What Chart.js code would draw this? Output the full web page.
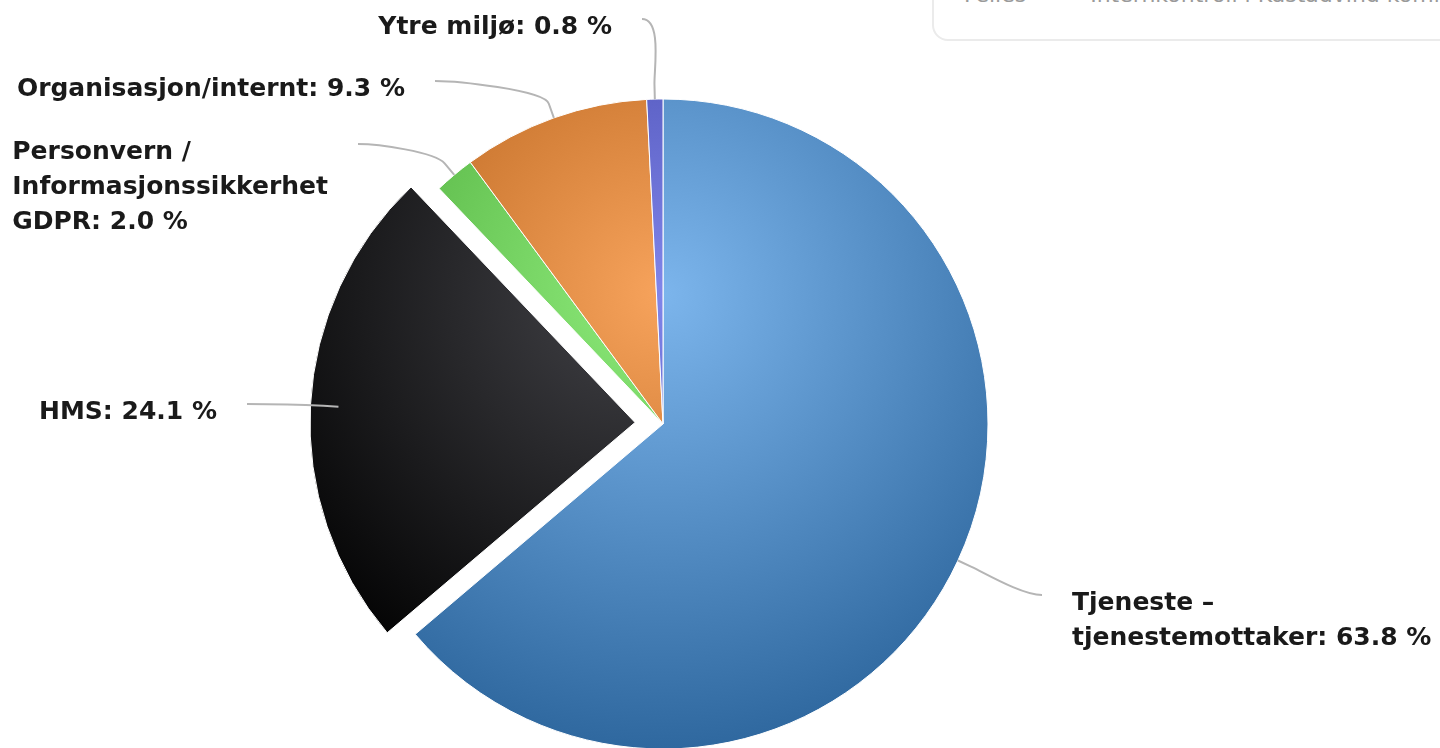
<!DOCTYPE html>
<html lang="no">
<head>
<meta charset="utf-8">
<title>Avvik fordelt på kategori</title>
<script src="https://cdn.jsdelivr.net/npm/chart.js@4.4.1/dist/chart.umd.min.js"></script>
<style>
  html, body { margin: 0; padding: 0; background: #fff; overflow: hidden; }
  .wrap { position: relative; width: 1440px; height: 748px; overflow: hidden; }
  #myChart { position: absolute; left: 0; top: 0; }
  .infoBox {
    position: absolute; left: 932px; top: -70px; width: 600px; height: 107px;
    border: 2px solid #ebebeb; border-radius: 16px; background: #fff;
  }
  .infoBox span {
    position: absolute; left: 30px; top: 50px;
    font: 22px "DejaVu Sans", sans-serif; color: #9a9a9a; white-space: nowrap;
  }
</style>
</head>
<body>
<div class="wrap">
  <canvas id="myChart" width="1440" height="748"></canvas>
  <div class="infoBox"><span>Felles &nbsp; — &nbsp; Internkontroll i Kastadvind kommune</span></div>
</div>
<script>
// kategorier, med klokka fra kl. 12 (flere linjer = array)
const categories = [
  ["Tjeneste –", "tjenestemottaker"],
  "HMS",
  ["Personvern /", "Informasjonssikkerhet", "GDPR"],
  "Organisasjon/internt",
  "Ytre miljø",
];
// andel i prosent
const shares = [63.8, 24.1, 2.0, 9.3, 0.8];

// farger (highcharts-aktig palett)
const baseColors = ["#7cb5ec", "#434348", "#90ed7d", "#f7a35c", "#8085e9"];
// hvilken bit som er trukket ut
const explodedIndex = 1;

// layout
const pieRadius = 325;
// hvor ledelinjen starter ved etiketten, relativt til sentrum
const labelAnchors = [
  [379, 171],
  [-416, -20],
  [-305, -280],
  [-228, -343],
  [-21, -405],
];

// gjør en hex-farge mørkere (som brighten(-0.3))
function darken(hex, amount) {
  const n = parseInt(hex.slice(1), 16);
  const step = Math.round(amount * 255);
  const r = Math.max(0, ((n >> 16) & 255) - step);
  const g = Math.max(0, ((n >> 8) & 255) - step);
  const b = Math.max(0, (n & 255) - step);
  return `rgb(${r}, ${g}, ${b})`;
}

// radial gradient for hver bit
function sliceFill(c) {
  const chart = c.chart;
  const area = chart.chartArea;
  const color = baseColors[c.dataIndex % baseColors.length];
  if (!area) return color;
  const cx = (area.left + area.right) / 2;
  const cy = (area.top + area.bottom) / 2 - 0.4 * pieRadius;
  const grad = chart.ctx.createRadialGradient(cx, cy, 0, cx, cy, 1.4 * pieRadius);
  grad.addColorStop(0, color);
  grad.addColorStop(1, darken(color, 0.3));
  return grad;
}

// etiketter med ledelinjer
const pieLabels = {
  id: "pieLabels",
  afterDatasetsDraw(chart) {
    const ctx = chart.ctx;
    const meta = chart.getDatasetMeta(0);
    ctx.save();
    ctx.font = "bold 25px 'DejaVu Sans'";
    ctx.textBaseline = "alphabetic";
    meta.data.forEach((arc, i) => {
      const { x, y, startAngle, endAngle, outerRadius } = arc.getProps(
        ["x", "y", "startAngle", "endAngle", "outerRadius"],
        true
      );
      const mid = (startAngle + endAngle) / 2;
      const ex = x + Math.cos(mid) * outerRadius;
      const ey = y + Math.sin(mid) * outerRadius;
      const bx = x + Math.cos(mid) * (outerRadius + 15);
      const by = y + Math.sin(mid) * (outerRadius + 15);
      const px = x + labelAnchors[i][0];
      const py = y + labelAnchors[i][1];
      const onRight = px > x;
      const dir = onRight ? -1 : 1;

      // ledelinje
      ctx.beginPath();
      ctx.moveTo(px, py);
      ctx.bezierCurveTo(px + dir * 20, py, 2 * bx - ex, 2 * by - ey, bx, by);
      ctx.lineTo(ex, ey);
      ctx.strokeStyle = "#b5b5b5";
      ctx.lineWidth = 2;
      ctx.stroke();

      // tekst
      const name = categories[i];
      const lines = Array.isArray(name) ? name.slice() : [name];
      lines[lines.length - 1] += `: ${shares[i].toFixed(1)} %`;
      const widths = lines.map((l) => ctx.measureText(l).width);
      const boxW = Math.max(...widths);
      let left;
      if (onRight) {
        left = px + 30;
      } else {
        left = Math.max(12, px - 30 - boxW);
      }
      ctx.fillStyle = "#1a1a1a";
      lines.forEach((l, k) => {
        let lx = left;
        if (!onRight && lines.length === 1) lx = left + boxW - widths[k];
        ctx.textAlign = "left";
        ctx.fillText(l, lx, py + 15 + k * 35);
      });
    });
    ctx.restore();
  },
};

const ctx = document.getElementById("myChart").getContext("2d");
const myChart = new Chart(ctx, {
  type: "pie",
  data: {
    labels: categories,
    datasets: [
      {
        data: shares,
        backgroundColor: sliceFill,
        borderColor: "#ffffff",
        borderWidth: 1,
        offset: shares.map((v, i) => (i === explodedIndex ? 112 : 0)),
        clip: false,
      },
    ],
  },
  options: {
    responsive: false,
    devicePixelRatio: 1,
    animation: false,
    events: [],
    radius: pieRadius,
    layout: { padding: { left: 0, right: 114, top: 100, bottom: 0 } },
    plugins: {
      legend: { display: false },
      tooltip: { enabled: false },
      title: { display: false },
    },
  },
  plugins: [pieLabels],
});
</script>
</body>
</html>
